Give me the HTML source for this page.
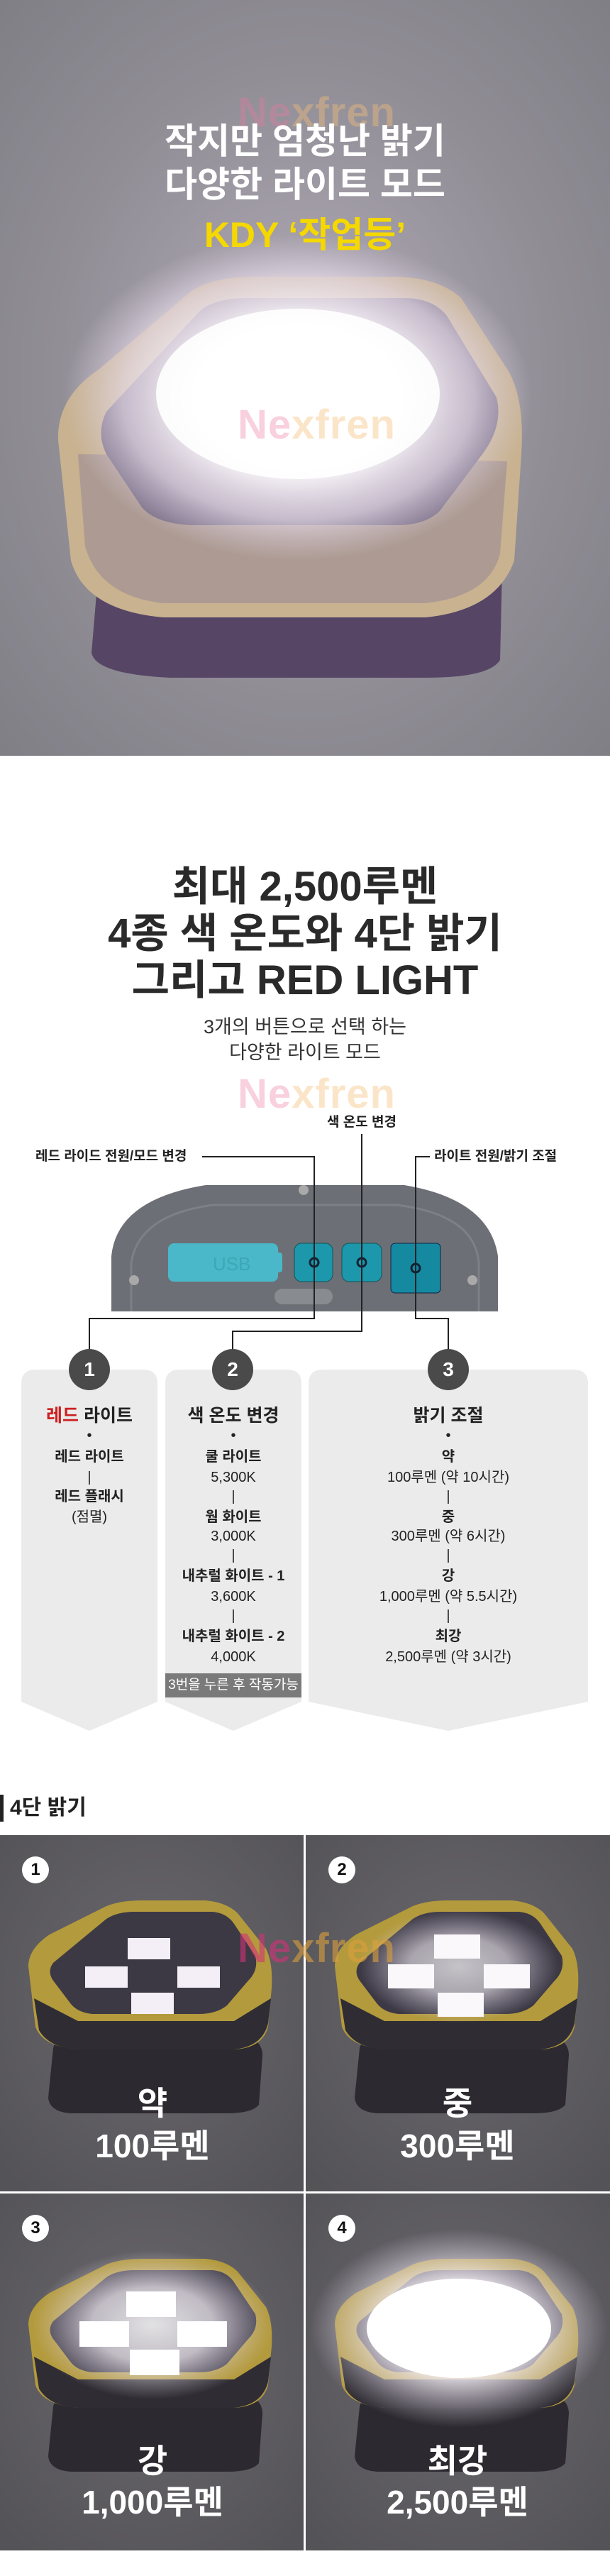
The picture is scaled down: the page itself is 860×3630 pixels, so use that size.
<!DOCTYPE html>
<html><head><meta charset="utf-8">
<style>
*{margin:0;padding:0;box-sizing:border-box}
body{width:860px;height:3630px;background:#fff;position:relative;overflow:hidden;font-family:"Liberation Sans","Noto Sans CJK KR",sans-serif;color:#222}
.a{position:absolute}
.c{position:absolute;text-align:center;white-space:nowrap}
.b{font-weight:700}
.wm{position:absolute;font-weight:700;font-size:58px;color:rgba(235,120,160,0.35);letter-spacing:1px}
.wm span{color:rgba(245,190,120,0.4)}
.it{position:absolute;width:100%;text-align:center;font-size:20px;line-height:22px;white-space:nowrap}
.num{position:absolute;width:58px;height:58px;border-radius:50%;background:#4a4a4a;color:#fff;font-weight:700;font-size:28px;text-align:center;line-height:58px}
.cn{position:absolute;width:38px;height:38px;border-radius:50%;background:#fff;color:#111;font-weight:700;font-size:24px;text-align:center;line-height:38px}
.ct{position:absolute;width:430px;text-align:center;color:#fff;font-weight:700;font-size:46px;line-height:52px}
</style></head><body>

<!-- HERO -->
<svg class="a" style="left:0;top:0" width="860" height="1065" viewBox="0 0 860 1065">
<defs>
<radialGradient id="hb" cx="0.5" cy="0.5" r="0.7"><stop offset="0" stop-color="#b3acb8"/><stop offset="0.6" stop-color="#908d95"/><stop offset="1" stop-color="#807f86"/></radialGradient>
<radialGradient id="hg" cx="0.5" cy="0.5" r="0.5"><stop offset="0" stop-color="#fff"/><stop offset="0.45" stop-color="#fbf8fb"/><stop offset="0.75" stop-color="#e6dbe8" stop-opacity="0.7"/><stop offset="1" stop-color="#d8cde0" stop-opacity="0"/></radialGradient>
</defs>
<rect width="860" height="1065" fill="url(#hb)"/>
<path d="M140,790 Q150,760 240,750 L620,750 Q700,760 708,800 L705,930 Q690,955 600,955 L240,955 Q135,950 129,920 Z" fill="#574566"/>
<path d="M82,620 Q80,560 140,520 L270,410 Q300,390 360,390 L560,390 Q620,392 650,420 L715,520 Q740,560 735,640 L725,790 Q700,860 600,870 L230,870 Q120,860 100,790 Z" fill="#c8b290"/>
<path d="M110,640 L120,770 Q140,840 230,850 L600,850 Q690,840 705,780 L715,650 Z" fill="#8c7e96" opacity="0.45"/>
<path d="M150,580 L280,440 Q300,420 350,420 L570,420 Q610,420 630,445 L700,560 Q710,600 680,640 L620,720 Q600,740 560,740 L270,740 Q220,738 200,715 L150,640 Q135,610 150,580 Z" fill="#7a6f86"/>
<ellipse cx="420" cy="560" rx="330" ry="230" fill="url(#hg)"/>
<ellipse cx="420" cy="555" rx="200" ry="120" fill="#fff" opacity="0.9"/>
</svg>
<div class="wm" style="left:335px;top:125px">Ne<span>xfren</span></div>
<div class="wm" style="left:335px;top:565px">Ne<span>xfren</span></div>
<div class="c b" style="left:0;width:860px;top:170px;font-size:50px;line-height:58px;color:#fff">작지만 엄청난 밝기</div>
<div class="c b" style="left:0;width:860px;top:231px;font-size:50px;line-height:58px;color:#fff">다양한 라이트 모드</div>
<div class="c b" style="left:0;width:860px;top:302px;font-size:50px;line-height:58px;color:#f5d800">KDY ‘작업등’</div>

<!-- SECTION 2 -->
<div class="c b" style="left:0;width:860px;top:1218px;font-size:58px;line-height:64px;color:#2a2a2a">최대 2,500루멘</div>
<div class="c b" style="left:0;width:860px;top:1284px;font-size:58px;line-height:64px;color:#2a2a2a">4종 색 온도와 4단 밝기</div>
<div class="c b" style="left:0;width:860px;top:1350px;font-size:58px;line-height:64px;color:#2a2a2a">그리고 RED LIGHT</div>
<div class="c" style="left:0;width:860px;top:1432px;font-size:27px;line-height:30px;color:#333">3개의 버튼으로 선택 하는</div>
<div class="c" style="left:0;width:860px;top:1468px;font-size:27px;line-height:30px;color:#333">다양한 라이트 모드</div>
<div class="wm" style="left:335px;top:1508px">Ne<span>xfren</span></div>

<svg class="a" style="left:0;top:1560px" width="860" height="400" viewBox="0 1560 860 400">
<path d="M157,1848 L157,1770 Q165,1690 290,1670 L570,1670 Q690,1690 702,1770 L702,1848 Z" fill="#6c6f75"/>
<path d="M185,1848 L185,1780 Q195,1712 300,1698 L560,1698 Q670,1712 675,1780 L675,1848" fill="none" stroke="#7d8086" stroke-width="3"/>
<circle cx="428" cy="1677" r="7" fill="#a9a9a9"/>
<circle cx="189" cy="1804" r="7" fill="#a9a9a9"/>
<circle cx="666" cy="1804" r="7" fill="#a9a9a9"/>
<rect x="237" y="1752" width="155" height="54" rx="8" fill="#4ab8c8"/>
<rect x="388" y="1765" width="10" height="28" rx="4" fill="#4ab8c8"/>
<text x="300" y="1790" font-size="26" font-family="Liberation Sans" fill="#3ea6b6">USB</text>
<rect x="415" y="1752" width="54" height="54" rx="10" fill="#1d97ab" stroke="#155" stroke-width="1"/>
<rect x="482" y="1752" width="56" height="54" rx="10" fill="#1d97ab" stroke="#155" stroke-width="1"/>
<rect x="551" y="1752" width="70" height="70" rx="6" fill="#1589a0" stroke="#124" stroke-width="1"/>
<circle cx="443" cy="1779" r="6" fill="none" stroke="#123" stroke-width="3"/>
<circle cx="510" cy="1779" r="6" fill="none" stroke="#123" stroke-width="3"/>
<circle cx="586" cy="1787" r="6" fill="none" stroke="#123" stroke-width="3"/>
<rect x="387" y="1816" width="82" height="22" rx="11" fill="#888b90"/>
<g fill="none" stroke="#222" stroke-width="2">
<path d="M285,1630 L443,1630 L443,1858 L126,1858 L126,1905"/>
<path d="M510,1598 L510,1876 L328,1876 L328,1905"/>
<path d="M606,1630 L586,1630 L586,1858 L632,1858 L632,1905"/>
</g>
</svg>
<div class="c b" style="left:410px;width:200px;top:1571px;font-size:19px;line-height:22px">색 온도 변경</div>
<div class="c b" style="left:50px;top:1619px;font-size:19px;line-height:22px">레드 라이드 전원/모드 변경</div>
<div class="c b" style="left:612px;top:1619px;font-size:19px;line-height:22px">라이트 전원/밝기 조절</div>

<!-- panels -->
<svg class="a" style="left:0;top:1925px" width="860" height="520">
<path d="M30,25 Q30,5 50,5 L202,5 Q222,5 222,25 L222,473 L126,514 L30,473 Z" fill="#ebebeb"/>
<path d="M233,25 Q233,5 253,5 L405,5 Q425,5 425,25 L425,473 L329,514 L233,473 Z" fill="#ebebeb"/>
<path d="M435,25 Q435,5 455,5 L809,5 Q829,5 829,25 L829,473 L632,514 L435,473 Z" fill="#ebebeb"/>
</svg>
<div class="num" style="left:97px;top:1901px">1</div>
<div class="num" style="left:299px;top:1901px">2</div>
<div class="num" style="left:603px;top:1901px">3</div>

<div class="a" style="left:30px;top:1981px;width:192px;height:400px">
<div class="it b" style="top:0;font-size:25px;line-height:28px"><span style="color:#cc1f1f">레드</span> 라이트</div>
<div class="it" style="top:31px">•</div>
<div class="it b" style="top:61px">레드 라이트</div>
<div class="it" style="top:90px">|</div>
<div class="it b" style="top:117px">레드 플래시</div>
<div class="it" style="top:146px">(점멸)</div>
</div>
<div class="a" style="left:233px;top:1981px;width:192px;height:400px">
<div class="it b" style="top:0;font-size:25px;line-height:28px">색 온도 변경</div>
<div class="it" style="top:31px">•</div>
<div class="it b" style="top:61px">쿨 라이트</div>
<div class="it" style="top:90px">5,300K</div>
<div class="it" style="top:117px">|</div>
<div class="it b" style="top:146px">웜 화이트</div>
<div class="it" style="top:173px">3,000K</div>
<div class="it" style="top:200px">|</div>
<div class="it b" style="top:229px">내추럴 화이트 - 1</div>
<div class="it" style="top:258px">3,600K</div>
<div class="it" style="top:285px">|</div>
<div class="it b" style="top:314px">내추럴 화이트 - 2</div>
<div class="it" style="top:343px">4,000K</div>
</div>
<div class="a" style="left:233px;top:2358px;width:192px;height:34px;background:#7a7a7a;color:#fff;font-size:19px;line-height:34px;text-align:center;white-space:nowrap">3번을 누른 후 작동가능</div>
<div class="a" style="left:435px;top:1981px;width:394px;height:400px">
<div class="it b" style="top:0;font-size:25px;line-height:28px">밝기 조절</div>
<div class="it" style="top:31px">•</div>
<div class="it b" style="top:61px">약</div>
<div class="it" style="top:90px">100루멘 (약 10시간)</div>
<div class="it" style="top:117px">|</div>
<div class="it b" style="top:146px">중</div>
<div class="it" style="top:173px">300루멘 (약 6시간)</div>
<div class="it" style="top:200px">|</div>
<div class="it b" style="top:229px">강</div>
<div class="it" style="top:258px">1,000루멘 (약 5.5시간)</div>
<div class="it" style="top:285px">|</div>
<div class="it b" style="top:314px">최강</div>
<div class="it" style="top:343px">2,500루멘 (약 3시간)</div>
</div>

<!-- 4단 밝기 -->
<div class="a" style="left:0;top:2529px;width:5px;height:38px;background:#222"></div>
<div class="a b" style="left:14px;top:2529px;font-size:30px;line-height:38px;color:#222">4단 밝기</div>

<svg class="a" style="left:0;top:2586px" width="860" height="1008">
<defs>
<radialGradient id="cb" cx="0.5" cy="0.45" r="0.7"><stop offset="0" stop-color="#6a686d"/><stop offset="1" stop-color="#545357"/></radialGradient>
<radialGradient id="gl" cx="0.5" cy="0.5" r="0.5"><stop offset="0" stop-color="#fff"/><stop offset="0.5" stop-color="#f4eef5" stop-opacity="0.85"/><stop offset="1" stop-color="#d8cde0" stop-opacity="0"/></radialGradient>
<g id="lamp">
<path d="M75,300 Q80,280 120,275 L330,275 Q370,285 370,310 L365,380 Q355,392 320,392 L100,392 Q70,390 68,370 Z" fill="#2c2a30"/>
<path d="M40,185 Q40,160 70,140 L150,100 Q170,92 200,92 L290,92 Q320,95 335,110 L375,160 Q385,180 383,215 L378,270 Q370,300 330,302 L110,302 Q60,298 50,270 Z" fill="#b39a3c"/>
<path d="M48,230 L55,275 Q70,300 110,302 L330,302 Q370,298 378,265 L382,230 L330,262 L110,262 Z" fill="#2f2d33"/>
<path d="M75,180 L150,118 Q165,108 190,108 L300,108 Q320,110 330,125 L360,170 Q365,190 350,205 L320,240 Q305,252 280,252 L130,252 Q110,250 100,238 L75,205 Q66,192 75,180 Z" fill="#3c3945"/>
</g>
</defs>
<rect x="0" y="0" width="860" height="1008" fill="#fff"/>
<rect x="0" y="0" width="428" height="502" fill="url(#cb)"/>
<rect x="431" y="0" width="429" height="502" fill="url(#cb)"/>
<rect x="0" y="505" width="428" height="503" fill="url(#cb)"/>
<rect x="431" y="505" width="429" height="503" fill="url(#cb)"/>
<g>
<use href="#lamp"/>
<g fill="#f4eef6"><rect x="180" y="145" width="60" height="30"/><rect x="120" y="185" width="60" height="30"/><rect x="250" y="185" width="60" height="30"/><rect x="185" y="222" width="60" height="30"/></g>
</g>
<g transform="translate(432,0)">
<use href="#lamp"/>
<ellipse cx="215" cy="185" rx="140" ry="80" fill="url(#gl)" opacity="0.7"/>
<g fill="#fbf8fc"><rect x="180" y="140" width="65" height="34"/><rect x="115" y="182" width="65" height="34"/><rect x="250" y="182" width="65" height="34"/><rect x="185" y="222" width="65" height="34"/></g>
</g>
<g transform="translate(0,505)">
<use href="#lamp"/>
<ellipse cx="215" cy="185" rx="170" ry="105" fill="url(#gl)" opacity="0.85"/>
<g fill="#fff"><rect x="178" y="138" width="70" height="36"/><rect x="112" y="180" width="70" height="36"/><rect x="250" y="180" width="70" height="36"/><rect x="183" y="220" width="70" height="36"/></g>
</g>
<g transform="translate(432,505)">
<use href="#lamp"/>
<ellipse cx="215" cy="190" rx="210" ry="140" fill="url(#gl)"/>
<ellipse cx="215" cy="190" rx="130" ry="70" fill="#fff"/>
</g>
</svg>
<div class="wm" style="left:335px;top:2712px;color:rgba(210,50,120,0.6)">Ne<span style="color:rgba(220,160,60,0.6)">xfren</span></div>
<div class="cn" style="left:31px;top:2616px">1</div>
<div class="cn" style="left:463px;top:2616px">2</div>
<div class="cn" style="left:31px;top:3121px">3</div>
<div class="cn" style="left:463px;top:3121px">4</div>
<div class="ct" style="left:0;top:2938px">약</div>
<div class="ct" style="left:0;top:2998px">100루멘</div>
<div class="ct" style="left:430px;top:2938px">중</div>
<div class="ct" style="left:430px;top:2998px">300루멘</div>
<div class="ct" style="left:0;top:3442px">강</div>
<div class="ct" style="left:0;top:3500px">1,000루멘</div>
<div class="ct" style="left:430px;top:3442px">최강</div>
<div class="ct" style="left:430px;top:3500px">2,500루멘</div>
</body></html>
